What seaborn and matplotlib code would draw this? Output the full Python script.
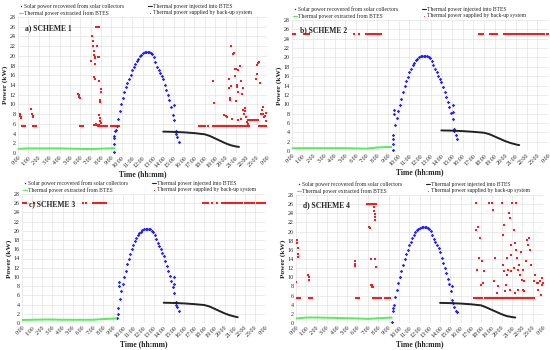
import numpy as np
import pandas as pd
import matplotlib
matplotlib.use("Agg")
import matplotlib.pyplot as plt
import seaborn as sns

sns.set_theme(style="whitegrid")
plt.rcParams['font.family'] = ['Liberation Serif', 'DejaVu Serif']

# hours 0..24, labels as in the Excel chart
hour_ticks = list(range(25))
hour_labels = ["0:00", "1:00", "2:00", "3:00", "4:00", "5:00", "6:00", "7:00", "8:00",
               "9:00", "10:00", "11:00", "12:00", "13:00", "14:00", "15:00", "16:00",
               "17:00", "18:00", "19:00", "20:00", "21:00", "22:00", "23:00", "0:00"]
power_ticks = list(range(0, 29, 2))

# --- solar power recovered (blue) ---
solar_t = [9.5, 9.65, 9.8, 9.95, 10.1, 10.25, 10.4, 10.55, 10.7, 10.85,
           11.0, 11.15, 11.3, 11.45, 11.6, 11.75, 11.9, 12.05, 12.2, 12.35,
           12.5, 12.65, 12.8, 12.95, 13.1, 13.25, 13.4, 13.55, 13.7, 13.85,
           14.0, 14.15, 14.3, 14.45, 14.6, 14.75, 14.9, 15.05, 15.2, 15.35, 15.5]
solar_1 = [5.5, 7.0, 8.6, 10.0, 11.3, 12.5, 13.6, 14.5, 15.3, 16.1,
           17.0, 17.7, 18.3, 18.9, 19.4, 19.9, 20.2, 20.5, 20.7, 20.8,
           20.8, 20.7, 20.6, 20.3, 19.8, 18.8, 17.7, 17.1, 16.5, 15.9,
           15.3, 14.0, 12.9, 12.0, 10.9, 9.4, 7.9, 6.7, 4.5, 3.2, 2.3]
solar_2 = [3.5, 5.5, 7.0, 8.5, 9.8, 11.2, 12.6, 13.8, 14.9, 15.9,
           16.8, 17.6, 18.3, 18.9, 19.4, 19.7, 20.0, 20.2, 20.4, 20.4,
           20.4, 20.3, 20.1, 19.8, 19.3, 18.3, 17.5, 16.8, 16.1, 15.4,
           14.7, 13.6, 12.6, 11.5, 10.4, 9.3, 8.1, 6.8, 4.6, 3.4, 2.6]
solar_3 = [3.2, 5.2, 6.9, 8.4, 9.9, 11.3, 12.7, 13.9, 15.0, 16.0,
           16.9, 17.7, 18.4, 19.0, 19.5, 19.8, 20.1, 20.3, 20.5, 20.5,
           20.4, 20.3, 20.0, 19.7, 19.2, 18.2, 17.4, 16.7, 16.0, 15.2,
           14.5, 13.4, 12.4, 11.3, 10.2, 9.1, 7.9, 6.6, 4.5, 3.4, 2.6]
solar_4 = [4.0, 5.6, 7.2, 8.7, 10.1, 11.4, 12.7, 13.9, 15.0, 16.0,
           17.0, 17.8, 18.6, 19.3, 19.8, 20.3, 20.6, 20.8, 21.0, 21.1,
           21.1, 21.0, 20.8, 20.5, 20.1, 19.2, 18.4, 17.7, 17.0, 16.3,
           15.5, 14.3, 13.2, 12.0, 10.9, 9.7, 8.5, 7.1, 5.0, 3.6, 2.6]
# start-up stacks and stray points
solar_1_xt = [9.25, 9.25, 9.3, 9.3, 9.35, 9.4, 15.05, 15.2, 15.25]
solar_1_xv = [0.3, 1.8, 3.0, 3.5, 4.5, 4.8, 9.9, 4.0, 4.3]
solar_2_xt = [9.45, 9.45, 9.48, 9.55, 9.6, 15.1, 15.1, 15.2]
solar_2_xv = [0.3, 1.5, 2.5, 8.8, 8.0, 9.8, 8.3, 4.2]
solar_3_xt = [9.4, 9.45, 9.6, 9.6, 15.05, 15.05, 15.2]
solar_3_xv = [1.0, 2.0, 8.8, 8.0, 9.9, 8.4, 4.0]
solar_4_xt = [9.35, 9.4, 9.45, 15.15, 15.3, 15.6]
solar_4_xv = [0.2, 2.6, 3.2, 8.2, 4.4, 2.4]

# --- thermal power extracted from BTES (green) ---
green_t = [0, 1, 2, 3, 4, 5, 6, 7, 8, 9, 9.3]
green_1 = [0.85, 0.95, 0.95, 0.95, 0.95, 0.9, 0.85, 0.8, 0.9, 0.95, 1.0]
green_2 = [0.6, 0.6, 0.6, 0.6, 0.6, 0.6, 0.55, 0.5, 0.75, 0.85, 0.85]
green_3 = [0.65, 0.7, 0.75, 0.75, 0.7, 0.7, 0.7, 0.7, 0.85, 0.95, 1.0]
green_4 = [1.0, 1.2, 1.2, 1.15, 1.1, 1.05, 1.0, 0.9, 1.05, 1.15, 1.2]

# --- thermal power injected into BTES (black) ---
black_t = [14.0, 15.0, 16.0, 17.0, 18.0, 18.5, 19.0, 19.5, 20.0, 20.5, 21.0, 21.3]
black_1 = [4.4, 4.35, 4.25, 4.1, 3.85, 3.5, 3.0, 2.5, 2.0, 1.6, 1.35, 1.25]
black_2 = [4.4, 4.35, 4.25, 4.1, 3.9, 3.6, 3.1, 2.6, 2.1, 1.7, 1.4, 1.25]
black_3 = [4.4, 4.35, 4.25, 4.1, 3.9, 3.6, 3.1, 2.6, 2.1, 1.7, 1.4, 1.25]
black_4 = [4.4, 4.35, 4.25, 4.1, 3.85, 3.4, 2.9, 2.4, 1.9, 1.5, 1.3, 1.2]

# --- thermal power supplied by back-up system (red) ---
red_1_t = [0.15, 0.2, 0.25, 0.3, 0.35, 0.45, 0.55, 0.65,
           1.3, 1.35, 1.4, 1.45, 1.45, 1.55, 1.65, 1.75,
           5.8, 5.85, 5.9, 5.95, 6.0, 6.1, 6.2, 6.3,
           7.05, 7.15, 7.2, 7.25, 7.3, 7.35, 7.4, 7.45,
           7.5, 7.55, 7.6, 7.65, 7.7, 7.75, 7.8, 7.85,
           7.4, 7.35, 7.4, 7.65, 7.75, 7.8, 7.85, 8.0, 8.0, 7.9, 7.95, 7.85, 7.9, 7.95, 8.0,
           7.3, 7.4, 7.5, 7.6, 7.7, 7.8, 7.9, 8.0, 8.1, 8.2, 8.3, 8.4, 8.55,
           9.0, 9.1, 9.2, 9.3, 9.45, 9.7,
           17.4, 17.55, 17.7, 17.85, 18.0, 18.3, 18.8, 18.95, 19.1, 19.3, 19.45, 19.6,
           19.75, 19.9, 20.05, 20.2, 20.35, 20.5, 20.65, 20.8, 20.95, 21.1, 21.25, 21.4,
           21.55, 21.7, 21.85, 22.0, 22.15, 22.3, 23.2, 23.35, 23.5, 23.65, 23.8, 23.95,
           22.2, 22.35, 22.5, 22.65, 22.8, 22.95, 23.1,
           18.8, 18.85, 19.9, 20.0, 20.1, 20.3, 20.35, 20.4, 20.45, 20.55, 20.55, 20.7,
           20.85, 20.9, 21.05, 21.2, 21.4, 20.9, 21.0, 21.1, 21.15, 21.25, 21.5, 21.6,
           21.65, 21.7, 21.8, 21.85, 21.9, 22.0, 22.1, 22.2, 21.2, 20.6, 21.45, 23.05,
           23.15, 23.2, 22.95, 23.3, 23.55, 23.65, 23.75, 23.45, 23.6, 23.85, 23.95, 23.9, 23.0]
red_1_v = [8.0, 7.7, 7.5, 7.3, 5.5, 5.5, 5.5, 5.5,
           9.0, 8.0, 7.7, 7.4, 5.5, 5.5, 5.5, 5.5,
           12.2, 11.9, 11.6, 11.3, 5.5, 5.5, 5.5, 5.5,
           19.0, 24.0, 23.0, 22.0, 21.0, 20.2, 19.7, 19.6,
           26, 26, 26, 26, 26, 26, 26, 26,
           18.4, 15.6, 15.3, 22.0, 19.8, 19.8, 14.8, 13.2, 12.6, 11.0, 10.4, 7.8, 7.3, 6.5, 6.2,
           5.8, 5.7, 5.9, 5.7, 5.6, 5.8, 5.5, 5.6, 5.5, 5.5, 5.5, 5.5, 5.5,
           5.5, 5.5, 5.5, 5.5, 5.5, 5.5,
           5.5, 5.5, 5.5, 5.5, 5.5, 5.5, 5.5, 5.5, 5.5, 5.5, 5.5, 5.5,
           5.5, 5.5, 5.5, 5.5, 5.5, 5.5, 5.5, 5.5, 5.5, 5.5, 5.5, 5.5,
           5.5, 5.5, 5.5, 5.5, 5.5, 5.5, 5.5, 5.5, 5.5, 5.5, 5.5, 5.5,
           6.7, 6.7, 6.7, 6.7, 6.7, 6.7, 6.7,
           14.9, 10.2, 7.8, 7.6, 7.4, 15.2, 13.3, 11.3, 11.0, 13.8, 22.0, 20.4,
           20.6, 17.2, 17.2, 17.1, 18.0, 15.8, 10.7, 13.6, 13.9, 12.6, 14.8, 12.1,
           13.4, 8.9, 8.0, 8.6, 9.2, 7.5, 6.4, 5.9, 6.8, 6.9, 7.0, 18.1,
           18.5, 18.7, 15.3, 14.4, 8.8, 8.0, 7.5, 8.0, 9.4, 7.6, 6.5, 8.3, 16.2]

red_2_level = 25
red_2_t = [0.0, 0.1, 0.2, 0.3, 1.15, 1.25, 1.35, 1.45, 1.55, 5.8, 6.3,
           6.9, 7.0, 7.1, 7.2, 7.3, 7.4, 7.5, 7.6, 7.7, 7.8, 7.9, 8.0, 8.1, 8.2, 8.3,
           17.5, 17.65, 17.8, 17.95, 18.6, 18.75, 18.9, 19.05, 19.2,
           19.9, 20.0, 20.1, 20.2, 20.3, 20.4, 20.5, 20.6, 20.7, 20.8, 20.9,
           21.0, 21.1, 21.2, 21.3, 21.4, 21.5, 21.6, 21.7, 21.8,
           22.0, 22.1, 22.2, 22.3, 22.4, 22.5, 22.6, 22.7, 22.8,
           22.95, 23.05, 23.15, 23.25, 23.35, 23.45, 23.55, 23.65, 23.9, 24.0]

red_3_level = 26
red_3_t = [0.05, 0.15, 0.4, 1.2, 6.0, 6.3,
           7.0, 7.1, 7.2, 7.3, 7.4, 7.5, 7.6, 7.7, 7.8, 7.9, 8.0, 8.1, 8.2, 8.3,
           17.9, 18.0, 18.1, 18.2, 18.3, 18.4, 18.8, 19.3,
           19.8, 19.9, 20.0, 20.1, 20.2, 20.3, 20.4, 20.5, 20.6, 20.7,
           20.85, 20.95, 21.05, 21.15, 21.25, 21.35, 21.45, 21.55, 21.65, 21.75,
           22.0, 22.1, 22.2, 22.3, 22.4, 22.5, 22.6, 22.7, 22.8, 22.9,
           23.2, 23.3, 23.4, 23.5, 23.6, 23.7, 23.8, 23.9, 24.0]

red_4_t = [0.0, 0.1, 0.1, 0.15, 0.15, 0.2, 0.1, 0.2, 0.3, 0.4,
           1.2, 1.25, 1.3, 1.3, 1.4, 1.5, 1.6,
           5.7, 5.7, 5.75, 5.8, 5.9, 6.0, 6.1,
           6.9, 7.0, 7.1, 7.2, 7.3, 7.4, 7.5, 7.6, 7.7, 7.8,
           7.1, 7.15, 7.3, 7.7, 7.3, 7.35, 7.4, 7.5, 7.55, 7.6, 7.65, 7.65, 7.7, 7.75,
           7.5, 7.6, 7.7, 7.8, 7.9, 8.0, 8.1, 8.2, 8.3, 8.6, 8.7, 8.8, 8.9, 9.0, 9.1,
           17.3, 17.4, 17.5, 17.6, 17.7, 17.8, 18.0, 18.1, 18.4, 18.5, 18.7, 18.8,
           18.9, 19.0, 19.1, 19.2, 19.3, 19.4, 19.5, 19.6, 19.7, 19.8, 19.9, 20.0,
           20.1, 20.2, 20.3, 20.4, 20.5, 20.6, 20.7, 20.8, 20.9, 21.0, 21.1, 21.2,
           21.3, 21.4, 21.5, 21.6, 21.7, 21.8, 21.9, 22.0, 22.1, 22.2, 22.3, 22.4,
           22.5, 22.6, 22.7, 22.8, 22.9, 23.0, 23.1,
           17.5, 17.5, 17.7, 17.8, 17.6, 17.9, 18.1, 18.2, 18.3, 18.0,
           18.8, 19.0, 19.1, 19.3, 19.2, 19.5, 19.6,
           20.0, 20.1, 20.2, 20.1, 20.2, 20.5, 20.6, 20.5, 20.7, 20.8, 20.9, 20.9,
           21.0, 21.2, 21.3, 21.4, 21.4, 21.5, 21.6, 21.7, 21.8, 21.9, 22.0, 22.1,
           22.2, 22.3, 22.4, 22.6, 22.5, 22.7, 22.8, 23.1, 23.2, 23.4, 23.5, 23.7,
           23.9, 24.0, 23.95, 23.8, 23.5,
           20.3, 20.8, 21.3, 21.6, 22.2, 20.4, 20.9, 21.2, 22.1]
red_4_v = [9.0, 18.2, 17.4, 16.3, 15.2, 14.5, 5.5, 5.5, 5.5, 5.5,
           10.6, 10.0, 9.5, 5.5, 5.5, 5.5, 5.5,
           13.6, 12.9, 12.5, 5.5, 5.5, 5.5, 5.5,
           26, 26, 26, 26, 26, 26, 26, 26, 26, 26,
           21.0, 20.7, 13.9, 13.9, 8.3, 8.4, 7.9, 7.8, 25.4, 24.6, 23.9, 23.2, 22.6, 12.2,
           5.5, 5.5, 5.5, 5.5, 5.5, 5.5, 5.5, 5.5, 5.5, 5.5, 5.5, 5.5, 5.5, 5.5, 5.5,
           5.5, 5.5, 5.5, 5.5, 5.5, 5.5, 5.5, 5.5, 5.5, 5.5, 5.5, 5.5,
           5.5, 5.5, 5.5, 5.5, 5.5, 5.5, 5.5, 5.5, 5.5, 5.5, 5.5, 5.5,
           5.5, 5.5, 5.5, 5.5, 5.5, 5.5, 5.5, 5.5, 5.5, 5.5, 5.5, 5.5,
           5.5, 5.5, 5.5, 5.5, 5.5, 5.5, 5.5, 5.5, 5.5, 5.5, 5.5, 5.5,
           5.5, 5.5, 5.5, 5.5, 5.5, 5.5, 5.5,
           26.2, 20.4, 21.1, 14.2, 11.6, 18.5, 13.5, 8.7, 11.3, 8.4,
           26.2, 26.2, 24.7, 14.2, 9.1, 6.5, 8.0,
           26.2, 19.3, 21.5, 12.7, 11.3, 14.2, 11.6, 10.5, 24.0, 22.9, 17.1, 14.9,
           26.2, 20.4, 17.5, 16.0, 26.2, 14.2, 11.6, 12.7, 10.5, 15.6, 9.5, 7.3,
           9.1, 13.5, 18.2, 18.5, 17.1, 16.0, 12.7, 9.1, 10.5, 8.7, 8.7, 9.1,
           8.4, 8.7, 9.8, 6.2, 7.3,
           6.9, 7.3, 6.5, 7.3, 6.9, 8.4, 11.3, 12.0, 11.6]

BLUE = "#1f1fff"
GREEN = "#55ee55"
BLACK = "#222222"
RED = "#ff1a1a"


def draw_panel(ax, title, s_v, s_xt, s_xv, g_v, b_v, r_t, r_v):
    solar = pd.DataFrame({"t": solar_t + s_xt, "v": s_v + s_xv})
    green = pd.DataFrame({"t": green_t, "v": g_v})
    black = pd.DataFrame({"t": black_t, "v": b_v})
    red = pd.DataFrame({"t": r_t, "v": r_v})

    sns.scatterplot(data=solar, x="t", y="v", ax=ax, color=BLUE, marker="D", s=3,
                    linewidth=0, label="Solar power recovered from solar collectors")
    sns.lineplot(data=green, x="t", y="v", ax=ax, color=GREEN, lw=1.4,
                 label="Thermal power extracted from BTES")
    sns.lineplot(data=black, x="t", y="v", ax=ax, color=BLACK, lw=1.4,
                 label="Thermal power injected into BTES")
    sns.scatterplot(data=red, x="t", y="v", ax=ax, color=RED, marker="s", s=4,
                    linewidth=0, label="Thermal power supplied by back-up system")

    ax.set_xlim(0, 24)
    ax.set_ylim(0, 28)
    ax.set_xticks(hour_ticks)
    ax.set_xticklabels(hour_labels, rotation=45, ha="right", rotation_mode="anchor")
    ax.set_yticks(power_ticks)
    ax.tick_params(axis="both", labelsize=4.3, pad=1.5, length=0)
    ax.grid(True, color="#e3e3e3", lw=0.5)
    for sp in ax.spines.values():
        sp.set_visible(False)
    ax.set_xlabel("Time (hh:mm)", fontsize=5.5, fontweight="bold", labelpad=1)
    ax.set_ylabel("Power (kW)", fontsize=5.3, fontweight="bold", labelpad=1.5)
    ax.text(0.03, 0.95, title, transform=ax.transAxes, fontsize=5.5,
            fontweight="bold", va="top", ha="left")

    handles, labels = ax.get_legend_handles_labels()
    leg = ax.legend(handles, labels,
                    ncol=2, loc="lower left", bbox_to_anchor=(0.0, 1.0), frameon=False,
                    fontsize=4.1, handlelength=0.6, handletextpad=0.3, columnspacing=4.2,
                    borderaxespad=0.1, borderpad=0.1, labelspacing=0.25, markerscale=1.0)
    for h in leg.legend_handles:
        if hasattr(h, "set_linewidth"):
            h.set_linewidth(0.8)


W, H = 550, 350
fig = plt.figure(figsize=(5.5, 3.5), dpi=100)
fig.patch.set_facecolor("white")

# axes boxes in pixels: left, right, top, bottom
boxes = [(18, 267, 17, 153), (292, 548, 20, 151), (22, 265, 194, 323), (296, 543, 195, 323)]
axes = []
for l, r, t, b in boxes:
    axes.append(fig.add_axes([l / W, 1 - b / H, (r - l) / W, (b - t) / H]))

draw_panel(axes[0], "a) SCHEME 1", solar_1, solar_1_xt, solar_1_xv, green_1, black_1,
           red_1_t, red_1_v)
draw_panel(axes[1], "b) SCHEME 2", solar_2, solar_2_xt, solar_2_xv, green_2, black_2,
           red_2_t, [red_2_level] * len(red_2_t))
draw_panel(axes[2], "c) SCHEME 3", solar_3, solar_3_xt, solar_3_xv, green_3, black_3,
           red_3_t, [red_3_level] * len(red_3_t))
draw_panel(axes[3], "d) SCHEME 4", solar_4, solar_4_xt, solar_4_xv, green_4, black_4,
           red_4_t, red_4_v)

fig.savefig("out.png", dpi=100)
